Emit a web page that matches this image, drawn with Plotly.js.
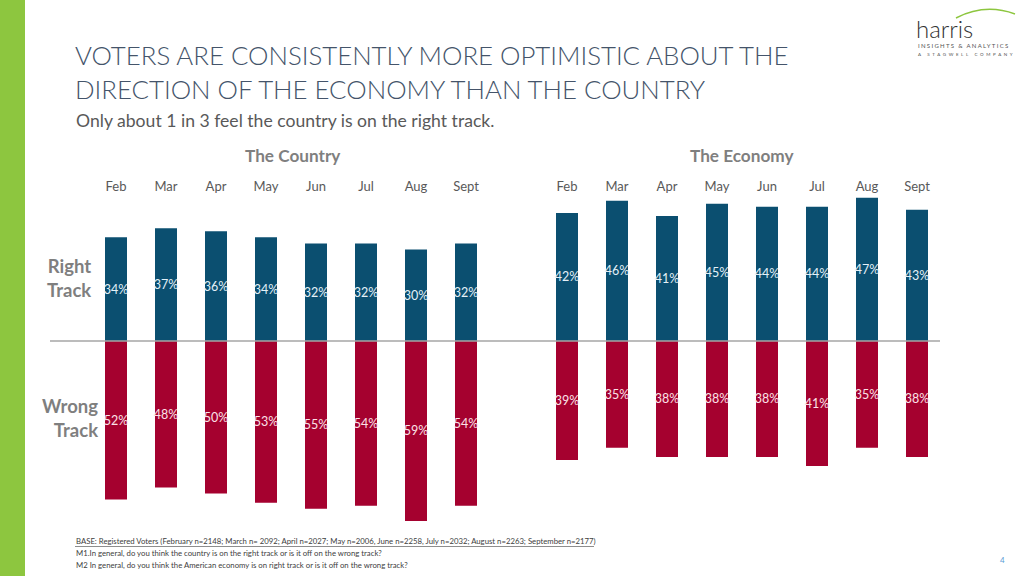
<!DOCTYPE html>
<html>
<head>
<meta charset="utf-8">
<script src="https://cdn.plot.ly/plotly-3.0.1.min.js"></script>
<style>html,body{margin:0;padding:0;background:#fff;}#chart{width:1024px;height:576px;}</style>
</head>
<body>
<div id="chart"></div>
<script>
const months = ['Feb','Mar','Apr','May','Jun','Jul','Aug','Sept'];
const countryRight = [34,37,36,34,32,32,30,32];
const countryWrong = [52,48,50,53,55,54,59,54];
const economyRight = [42,46,41,45,44,44,47,43];
const economyWrong = [39,35,38,38,38,41,35,38];

const W = 1024, H = 576;
const px = x => x / W;
const py = y => 1 - y / H;
const FONT = 'Lato, "Open Sans", sans-serif';
const BLUE = '#0b4f70';
const RED = '#a5012f';

const pct = a => a.map(v => v + '%');
const neg = a => a.map(v => -v);

function bar(xa, y, text, color, tcolor) {
  return {
    type: 'bar', x: months, y: y, xaxis: xa, yaxis: 'y',
    marker: {color: color, line: {width: 0}},
    text: text, textposition: 'inside', insidetextanchor: 'middle',
    textangle: 0, constraintext: 'none',
    textfont: {family: FONT, size: 12.5, color: tcolor},
    hoverinfo: 'skip', showlegend: false
  };
}

const data = [
  bar('x', countryRight, pct(countryRight), BLUE, '#e4f1f8'),
  bar('x', neg(countryWrong), pct(countryWrong), RED, '#fbe2e8'),
  bar('x2', economyRight, pct(economyRight), BLUE, '#e4f1f8'),
  bar('x2', neg(economyWrong), pct(economyWrong), RED, '#fbe2e8')
];

const zeroPx = 341, scale = 3.05, plotTop = 195, plotBot = 530;

const axisX = (dom) => ({
  domain: dom, anchor: 'y', side: 'top', type: 'category',
  showgrid: false, zeroline: false, showline: false, ticks: '',
  tickfont: {family: FONT, size: 13, color: '#595959'},
  fixedrange: true
});

const ann = (text, x, y, opts) => Object.assign({
  text: text, xref: 'paper', yref: 'paper', x: px(x), y: py(y),
  showarrow: false, xanchor: 'left', yanchor: 'middle',
  font: {family: FONT, size: 12, color: '#595959'}
}, opts || {});

const layout = {
  width: W, height: H,
  margin: {l: 0, r: 0, t: 0, b: 0},
  paper_bgcolor: '#ffffff', plot_bgcolor: 'rgba(0,0,0,0)',
  barmode: 'relative', bargap: 0.56,
  xaxis: axisX([px(91), px(491)]),
  xaxis2: axisX([px(542), px(942)]),
  yaxis: {
    domain: [1 - plotBot / H, 1 - plotTop / H],
    range: [-(plotBot - zeroPx) / scale, (zeroPx - plotTop) / scale],
    visible: false, showgrid: false, zeroline: false, fixedrange: true
  },
  shapes: [
    {type: 'rect', xref: 'paper', yref: 'paper', x0: 0, x1: px(25), y0: 0, y1: 1,
     fillcolor: '#8dc63f', line: {width: 0}, layer: 'below'},
    {type: 'line', xref: 'paper', yref: 'y', x0: px(50), x1: px(940), y0: 0, y1: 0,
     line: {color: '#a6a6a6', width: 1.5}, layer: 'above'},
    {type: 'line', xref: 'paper', yref: 'paper', x0: px(75), x1: px(594), y0: py(546.5), y1: py(546.5),
     line: {color: '#404040', width: 0.6}},
    {type: 'path', xref: 'paper', yref: 'paper',
     path: 'M ' + px(956) + ' ' + py(18) + ' Q ' + px(985) + ' ' + py(3) + ' ' + px(1015) + ' ' + py(14),
     line: {color: '#8dc63f', width: 1.5}}
  ],
  annotations: [
    ann('VOTERS ARE CONSISTENTLY MORE OPTIMISTIC ABOUT THE<br>DIRECTION OF THE ECONOMY THAN THE COUNTRY', 73, 72,
        {align: 'left', font: {family: FONT, size: 25.8, weight: 300, color: '#44546a'}}),
    ann('Only about 1 in 3 feel the country is on the right track.', 74, 120,
        {font: {family: FONT, size: 17.6, color: '#595959'}}),
    ann('<b>The Country</b>', 293, 156,
        {xanchor: 'center', font: {family: FONT, size: 17.2, color: '#7f7f7f'}}),
    ann('<b>The Economy</b>', 742, 156,
        {xanchor: 'center', font: {family: FONT, size: 17.2, color: '#7f7f7f'}}),
    ann('<b>Right<br>Track</b>', 93, 278,
        {xanchor: 'right', align: 'right', font: {family: FONT, size: 18.5, color: '#7f7f7f'}}),
    ann('<b>Wrong<br>Track</b>', 100, 418,
        {xanchor: 'right', align: 'right', font: {family: FONT, size: 18.5, color: '#7f7f7f'}}),
    ann('BASE: Registered Voters (February n=2148; March n= 2092; April n=2027; May n=2006, June n=2258, July n=2032; August n=2263; September n=2177)', 74, 541,
        {font: {family: FONT, size: 7.75, color: '#404040'}}),
    ann('M1.In general, do you think the country is on the right track or is it off on the wrong track?', 74, 553,
        {font: {family: FONT, size: 7.75, color: '#404040'}}),
    ann('M2 In general, do you think the American economy is on right track or is it off on the wrong track?', 74, 565,
        {font: {family: FONT, size: 7.75, color: '#404040'}}),
    ann('4', 1002, 560, {xanchor: 'center', font: {family: FONT, size: 8, color: '#5b9bd5'}}),
    ann('harris', 914, 28, {font: {family: FONT, size: 24, weight: 300, color: '#333333'}}),
    ann('<span style="letter-spacing:1.3px">INSIGHTS & ANALYTICS</span>', 916, 45, {font: {family: FONT, size: 6, color: '#555555'}}),
    ann('<span style="letter-spacing:2.6px">A STAGWELL COMPANY</span>', 916, 54, {font: {family: FONT, size: 4.5, color: '#555555'}})
  ]
};

Plotly.newPlot('chart', data, layout, {staticPlot: true, displayModeBar: false});
</script>
</body>
</html>
